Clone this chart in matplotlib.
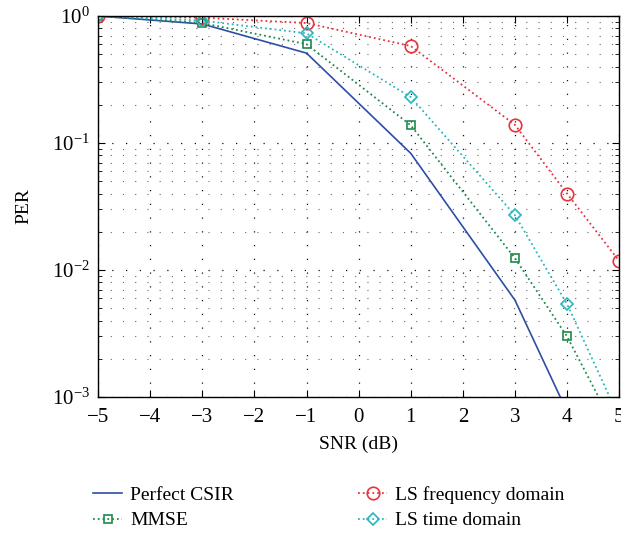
import numpy as np
import matplotlib
matplotlib.use('Agg')
import matplotlib.pyplot as plt
from matplotlib.ticker import LogLocator, NullFormatter

plt.rcParams['font.family'] = ['Liberation Serif', 'DejaVu Serif']
plt.rcParams['mathtext.fontset'] = 'stix'

snr = [-5, -3, -1, 1, 3, 4, 5]
per_perfect = [1.0, 0.865, 0.51, 0.083, 0.0058, 0.00077, 0.0001]
per_mmse = [1.0, 0.88, 0.60, 0.138, 0.0124, 0.0030, 0.00049]
per_ls_freq = [1.0, 0.97, 0.88, 0.58, 0.139, 0.040, 0.0118]
per_ls_time = [1.0, 0.92, 0.73, 0.23, 0.027, 0.0054, 0.00069]

fig = plt.figure(figsize=(6.21, 5.33), dpi=100)
ax = fig.add_axes([0.158, 0.255, 0.839, 0.715])

ax.semilogy(snr, per_perfect, '-', color='#2d4ea6', lw=1.2, label='Perfect CSIR')
ax.semilogy(snr, per_mmse, ':', color='#1d8a4c', lw=1.3, marker='s', ms=6,
            mfc='none', mew=1.2, label='MMSE')
ax.semilogy(snr, per_ls_freq, ':', color='#e8323c', lw=1.3, marker='o', ms=9,
            mfc='none', mew=1.2, label='LS frequency domain')
ax.semilogy(snr, per_ls_time, ':', color='#25b8bc', lw=1.3, marker='D', ms=6,
            mfc='none', mew=1.2, label='LS time domain')

ax.set_xlim(-5, 5)
ax.set_ylim(1e-3, 1)
ax.set_xticks(range(-5, 6))
ax.set_xticklabels([str(v).replace('-', '\u2212') for v in range(-5, 6)])
ax.yaxis.set_major_locator(LogLocator(base=10))
ax.yaxis.set_minor_locator(LogLocator(base=10, subs=np.arange(2, 10)))
ax.yaxis.set_minor_formatter(NullFormatter())

ax.grid(True, which='major', linestyle=(0, (1, 10)), color='#111111', lw=0.9)
ax.grid(True, which='minor', axis='y', linestyle=(0, (1, 10)), color='#666666', lw=0.8)

ax.tick_params(which='both', direction='in', top=True, right=True, labelsize=15)
ax.tick_params(axis='x', pad=8)
ax.tick_params(axis='y', pad=6)
ax.tick_params(which='major', length=5)
ax.tick_params(which='minor', length=3)
for s in ax.spines.values():
    s.set_linewidth(1.0)

ax.set_xlabel('SNR (dB)', fontsize=14, labelpad=6)
ax.set_ylabel('PER', fontsize=14, labelpad=14)

fig.legend(loc='upper left', bbox_to_anchor=(0.15, 0.088), ncol=2, frameon=False,
           fontsize=14, columnspacing=6.4, handlelength=1.5, handletextpad=0.4,
           labelspacing=0.4, borderaxespad=0, borderpad=0)

fig.savefig('out.png', dpi=100)
